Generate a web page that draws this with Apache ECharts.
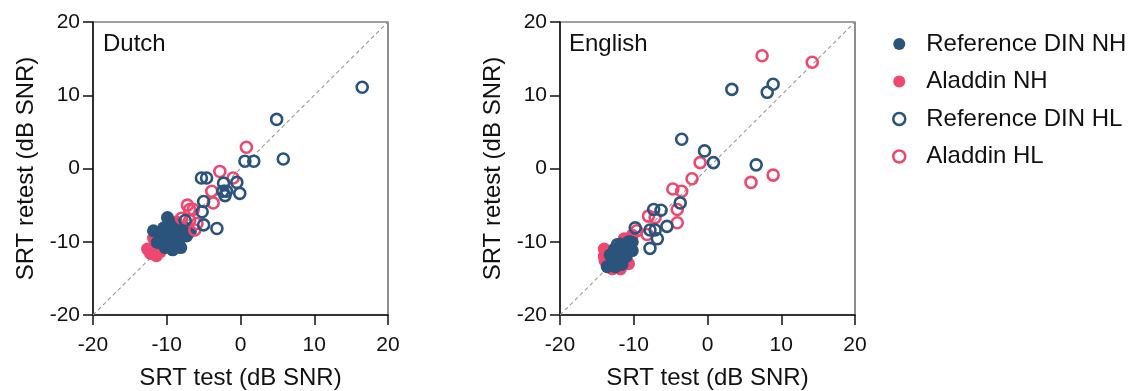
<!DOCTYPE html>
<html>
<head>
<meta charset="utf-8">
<script src="https://cdn.jsdelivr.net/npm/echarts@6/dist/echarts.min.js"></script>
<style>
  html, body { margin: 0; padding: 0; background: #fff; }
  #chart { width: 1133px; height: 391px; }
</style>
</head>
<body>
<div id="chart"></div>
<script>
// Axis settings shared by both panels
const axisMin = -20;
const axisMax = 20;
const axisStep = 10;
const panelTitles = ['Dutch', 'English'];
const xAxisTitle = 'SRT test (dB SNR)';
const yAxisTitle = 'SRT retest (dB SNR)';
const seriesNames = ['Reference DIN NH', 'Aladdin NH', 'Reference DIN HL', 'Aladdin HL'];
const identityLine = [[-20, -20], [20, 20]];

// Dutch: [test, retest] pairs
const dutchRefNH = [
  [-9.9, -6.7], [-11.8, -8.5], [-10.4, -8.1], [-8.8, -8.6], [-7.5, -8.1], [-6.8, -8.6],
  [-10.9, -9.7], [-9.8, -9.5], [-8.4, -10.0], [-10.2, -10.8], [-9.2, -11.1], [-8.1, -10.8],
  [-11.3, -10.1], [-9.5, -10.3], [-7.3, -9.2], [-10.6, -8.8], [-9.0, -7.6]
];
const dutchAlaNH = [
  [-12.6, -11.0], [-12.2, -11.6], [-11.4, -11.9], [-10.9, -11.4], [-8.7, -7.3],
  [-9.2, -8.0], [-11.8, -9.5]
];
const dutchRefHL = [
  [16.5, 11.1], [4.9, 6.7], [5.8, 1.3], [0.6, 1.0], [1.8, 1.0], [-5.3, -1.3], [-4.6, -1.3],
  [-2.3, -2.0], [-0.5, -1.9], [-2.4, -3.1], [-1.9, -3.1], [-0.1, -3.4], [-2.1, -3.7],
  [-5.0, -4.5], [-5.2, -5.9], [-7.5, -7.1], [-5.0, -7.7], [-3.2, -8.2]
];
const dutchAlaHL = [
  [0.8, 2.9], [-2.8, -0.4], [-1.0, -1.3], [-3.9, -3.1], [-3.7, -4.7], [-6.9, -5.6],
  [-6.4, -5.6], [-8.0, -6.8], [-6.9, -7.1], [-5.9, -7.5], [-7.2, -5.0], [-6.2, -8.4]
];

// English: [test, retest] pairs
const englishRefNH = [
  [-12.9, -12.6], [-12.1, -11.8], [-11.3, -11.0], [-10.5, -10.4], [-10.7, -10.0],
  [-12.5, -13.4], [-11.6, -13.1], [-13.2, -11.8], [-11.8, -10.3], [-11.0, -12.0],
  [-10.2, -11.2], [-12.6, -11.0], [-13.6, -13.4], [-10.2, -10.0]
];
const englishAlaNH = [
  [-14.0, -11.0], [-14.0, -12.0], [-13.9, -12.6], [-12.9, -13.7], [-11.8, -13.7],
  [-10.7, -13.0], [-11.3, -9.6], [-10.2, -9.1]
];
const englishRefHL = [
  [3.3, 10.8], [8.1, 10.4], [8.9, 11.5], [-3.5, 4.0], [-0.4, 2.4], [0.8, 0.8], [6.6, 0.5],
  [-3.7, -4.7], [-7.3, -5.6], [-6.3, -5.7], [-9.8, -8.1], [-7.8, -8.4], [-7.1, -8.4],
  [-5.5, -7.9], [-6.8, -9.6], [-7.8, -10.9], [-12.2, -10.4], [-10.3, -10.1]
];
const englishAlaHL = [
  [7.4, 15.4], [14.2, 14.5], [-1.0, 0.8], [-2.1, -1.4], [-4.7, -2.8], [-3.5, -3.1],
  [-4.1, -5.6], [-4.1, -7.4], [5.9, -1.9], [8.9, -0.9], [-8.0, -6.5], [-9.6, -8.5],
  [-8.2, -9.0], [-7.1, -6.7]
];

const BLUE = '#2a547c';
const PINK = '#ef476f';
const FONT = '"Liberation Sans", Arial, sans-serif';
const TEXT = '#111';

const panels = [
  { refNH: dutchRefNH, alaNH: dutchAlaNH, refHL: dutchRefHL, alaHL: dutchAlaHL },
  { refNH: englishRefNH, alaNH: englishAlaNH, refHL: englishRefHL, alaHL: englishAlaHL }
];

const grids = [
  { left: 93, top: 22, width: 295, height: 293 },
  { left: 560, top: 22, width: 295, height: 293 }
].map(g => Object.assign(g, {
  show: true, borderColor: '#444', borderWidth: 1.2, backgroundColor: 'transparent',
  containLabel: false, outerBoundsMode: 'none'
}));

function makeAxis(i, isX) {
  return {
    gridIndex: i,
    type: 'value',
    min: axisMin, max: axisMax, interval: axisStep,
    name: isX ? xAxisTitle : yAxisTitle,
    nameLocation: 'middle',
    nameGap: isX ? 51 : 55,
    nameTextStyle: { fontFamily: FONT, fontSize: 24, color: TEXT },
    axisLine: { show: true, onZero: false, lineStyle: { color: '#111', width: 1.5 } },
    axisTick: { show: true, inside: false, length: 10, lineStyle: { color: '#111', width: 1.5 } },
    axisLabel: { fontFamily: FONT, fontSize: 21, color: TEXT, margin: isX ? 20 : 13 },
    splitLine: { show: false }
  };
}

const filled = (color) => ({ color: color, opacity: 1 });
const ring = (color) => ({ color: 'transparent', borderColor: color, borderWidth: 2.6, opacity: 1 });

const series = [];
panels.forEach((p, i) => {
  series.push({
    type: 'line', xAxisIndex: i, yAxisIndex: i, data: identityLine, symbol: 'none', silent: true,
    lineStyle: { color: '#999', width: 1.1, type: [4, 3] }, z: 1
  });
  series.push({ name: seriesNames[1], type: 'scatter', xAxisIndex: i, yAxisIndex: i, data: p.alaNH,
    symbol: 'circle', symbolSize: 13, itemStyle: filled(PINK), z: 2 });
  series.push({ name: seriesNames[0], type: 'scatter', xAxisIndex: i, yAxisIndex: i, data: p.refNH,
    symbol: 'circle', symbolSize: 13, itemStyle: filled(BLUE), z: 3 });
  series.push({ name: seriesNames[3], type: 'scatter', xAxisIndex: i, yAxisIndex: i, data: p.alaHL,
    symbol: 'circle', symbolSize: 11, itemStyle: ring(PINK), z: 4 });
  series.push({ name: seriesNames[2], type: 'scatter', xAxisIndex: i, yAxisIndex: i, data: p.refHL,
    symbol: 'circle', symbolSize: 11, itemStyle: ring(BLUE), z: 5 });
});

const chart = echarts.init(document.getElementById('chart'), null, { renderer: 'canvas' });
chart.setOption({
  animation: false,
  backgroundColor: '#fff',
  grid: grids,
  xAxis: [makeAxis(0, true), makeAxis(1, true)],
  yAxis: [makeAxis(0, false), makeAxis(1, false)],
  legend: {
    orient: 'vertical',
    left: 887,
    top: 27,
    itemGap: 13.5,
    itemWidth: 12,
    itemHeight: 12,
    icon: 'circle',
    textStyle: { fontFamily: FONT, fontSize: 24, color: TEXT, padding: [0, 0, 0, 16] },
    data: [
      { name: seriesNames[0], itemStyle: { color: BLUE, borderWidth: 0 } },
      { name: seriesNames[1], itemStyle: { color: PINK, borderWidth: 0 } },
      { name: seriesNames[2], itemStyle: { color: '#fff', borderColor: BLUE, borderWidth: 2.5 } },
      { name: seriesNames[3], itemStyle: { color: '#fff', borderColor: PINK, borderWidth: 2.5 } }
    ]
  },
  graphic: [
    { type: 'text', left: 103, top: 32, style: { text: panelTitles[0], font: '24px ' + FONT, fill: TEXT } },
    { type: 'text', left: 569, top: 32, style: { text: panelTitles[1], font: '24px ' + FONT, fill: TEXT } }
  ],
  series: series
});
</script>
</body>
</html>
